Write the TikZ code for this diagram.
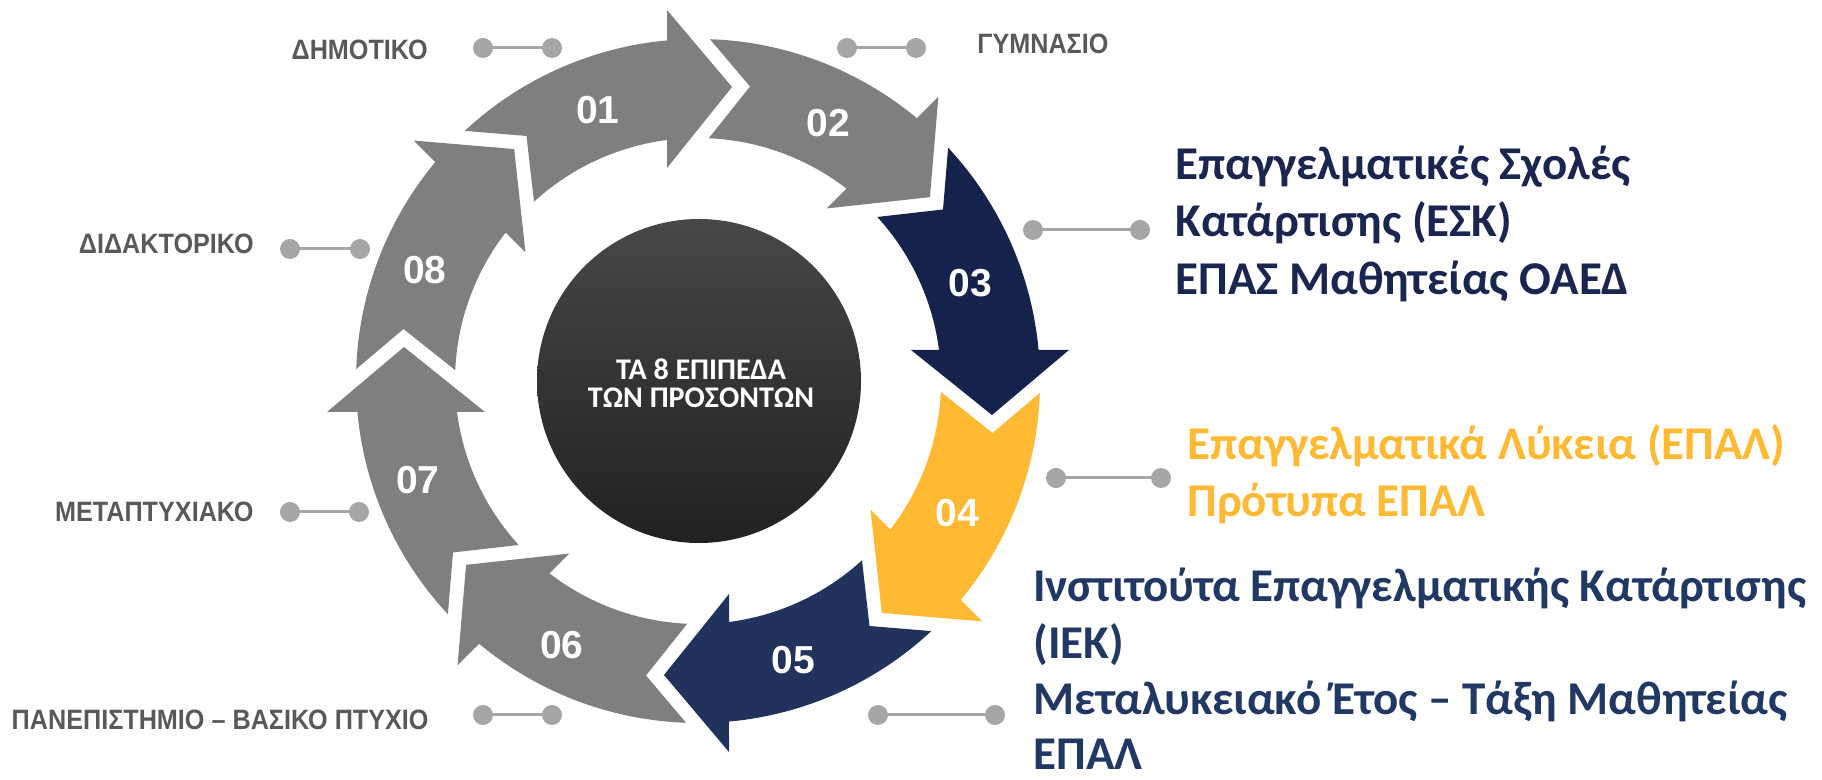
\documentclass[tikz,border=0pt]{standalone}
\usepackage{fontspec}
\setmainfont{Liberation Sans}
\newfontfamily\carlito{Carlito}
\newfontfamily\narrowfont[FakeStretch=0.9]{Liberation Sans}
\definecolor{arrgray}{HTML}{7F7F7F}
\definecolor{navyA}{HTML}{15224B}
\definecolor{navyB}{HTML}{21325C}
\definecolor{yel}{HTML}{FFB932}
\definecolor{lblgray}{HTML}{595959}
\definecolor{dotgray}{HTML}{A6A6A6}
\definecolor{txtA}{HTML}{1A2550}
\definecolor{txtB}{HTML}{213764}
\newcommand\ringarrow[2]{%
  \fill[#2, shift={(698,399)}, rotate=#1]
    (133.0:342) arc[start angle=133.0, end angle=95.2, radius=342]
    -- (-31,371) -- (34,294) -- (-31,213) -- (97.33:243)
    arc[start angle=97.33, end angle=132.45, radius=243]
    -- (-171.5,245) -- cycle;}
\begin{document}
\begin{tikzpicture}[x=0.5pt,y=0.5pt,
  num/.style={text=white, font=\bfseries\fontsize{19.5}{19.5}\selectfont, inner sep=0},
  lbl/.style={text=lblgray, font=\narrowfont\bfseries\fontsize{14}{14}\selectfont, inner sep=0},
  dotnode/.style={circle, fill=dotgray, minimum size=10pt, inner sep=0},
  conn/.style={draw=dotgray, line width=1.5pt},
  hubline/.style={text=white, font=\carlito\bfseries\fontsize{15}{15}\selectfont, inner sep=0, anchor=base},
  bigtxt/.style={font=\carlito\bfseries\fontsize{23.5}{23.5}\selectfont, inner sep=0, anchor=base west}]
\useasboundingbox (0,0) rectangle (1822,780);
% ring arrows
\ringarrow{0}{arrgray}
\ringarrow{-45}{arrgray}
\ringarrow{-90}{navyA}
\ringarrow{-135}{yel}
\ringarrow{-180}{navyB}
\ringarrow{-225}{arrgray}
\ringarrow{-270}{arrgray}
\ringarrow{-315}{arrgray}
% centre
\node[circle, minimum size=162pt, inner sep=0, top color=black!72, bottom color=black!87, draw=none] (hub) at (699,399) {};
\node[hubline] (hub1) at (701,400) {ΤΑ 8 ΕΠΙΠΕΔΑ};
\node[hubline] (hub2) at (701,372) {ΤΩΝ ΠΡΟΣΟΝΤΩΝ};
% numbers
\node[num] (n1) at (598,670) {01};
\node[num] (n2) at (828,657) {02};
\node[num] (n3) at (970,497) {03};
\node[num] (n4) at (957,267) {04};
\node[num] (n5) at (793,120) {05};
\node[num] (n6) at (562,135) {06};
\node[num] (n7) at (418,300) {07};
\node[num] (n8) at (425,510) {08};
% left / top labels
\node[lbl, anchor=east] (l1) at (428,730) {ΔΗΜΟΤΙΚΟ};
\node[lbl, anchor=west] (l2) at (977,736) {ΓΥΜΝΑΣΙΟ};
\node[lbl, anchor=east] (l8) at (254,536) {ΔΙΔΑΚΤΟΡΙΚΟ};
\node[lbl, anchor=east] (l7) at (254,268) {ΜΕΤΑΠΤΥΧΙΑΚΟ};
\node[lbl, anchor=east] (l6) at (429,60) {ΠΑΝΕΠΙΣΤΗΜΙΟ – ΒΑΣΙΚΟ ΠΤΥΧΙΟ};
% connectors
\coordinate (ca1) at (483,732); \coordinate (cb1) at (552,732);
\coordinate (ca2) at (847,732); \coordinate (cb2) at (916,732);
\coordinate (ca8) at (290,531); \coordinate (cb8) at (360,531);
\coordinate (ca7) at (290,268); \coordinate (cb7) at (359,268);
\coordinate (ca6) at (483,65);  \coordinate (cb6) at (552,65);
\coordinate (ca3) at (1033,550); \coordinate (cb3) at (1140,550);
\coordinate (ca4) at (1056,302); \coordinate (cb4) at (1161,302);
\coordinate (ca5) at (878,65);  \coordinate (cb5) at (995,65);
\foreach \k in {1,2,3,4,5,6,7,8}{
  \draw[conn] (ca\k) -- (cb\k);
  \node[dotnode] (a\k) at (ca\k) {};
  \node[dotnode] (b\k) at (cb\k) {};
}
% right texts
\node[bigtxt, text=txtA] (t3a) at (1175,600) {Επαγγελματικές Σχολές};
\node[bigtxt, text=txtA] (t3b) at (1175,543) {Κατάρτισης (ΕΣΚ)};
\node[bigtxt, text=txtA] (t3c) at (1175,485) {ΕΠΑΣ Μαθητείας ΟΑΕΔ};
\node[bigtxt, text=yel] (t4a) at (1187,320) {Επαγγελματικά Λύκεια (ΕΠΑΛ)};
\node[bigtxt, text=yel] (t4b) at (1187,263) {Πρότυπα ΕΠΑΛ};
\node[bigtxt, text=txtB] (t5a) at (1033,178) {Ινστιτούτα Επαγγελματικής Κατάρτισης};
\node[bigtxt, text=txtB] (t5b) at (1033,121) {(ΙΕΚ)};
\node[bigtxt, text=txtB] (t5c) at (1033,65) {Μεταλυκειακό Έτος – Τάξη Μαθητείας};
\node[bigtxt, text=txtB] (t5d) at (1033,10) {ΕΠΑΛ};
\end{tikzpicture}
\end{document}
